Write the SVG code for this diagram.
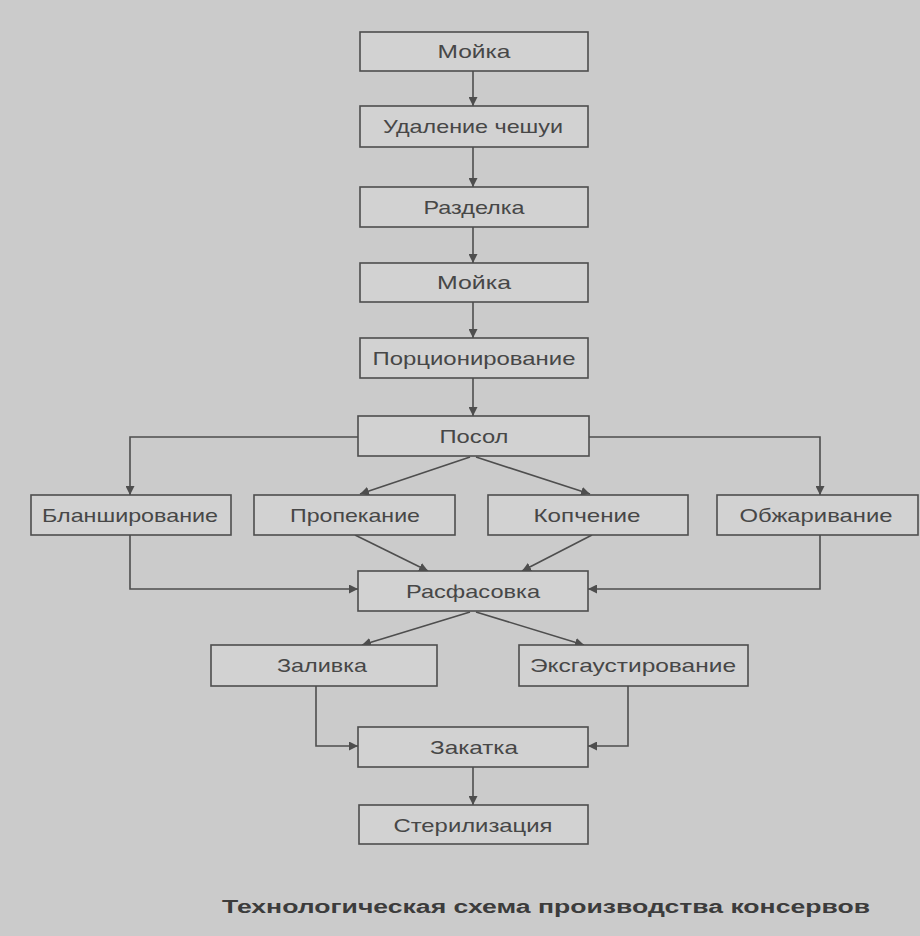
<svg xmlns="http://www.w3.org/2000/svg" width="920" height="936" viewBox="0 0 920 936">
<style>
.box{fill:#d2d2d2;stroke:#4e4e4e;stroke-width:1.6}
.lbl{font-family:"Liberation Sans",Arial,sans-serif;font-size:19px;fill:#474747;text-anchor:middle}
.ttl{font-family:"Liberation Sans",Arial,sans-serif;font-size:18px;font-weight:bold;fill:#3c3c3c}
.con{fill:none;stroke:#4e4e4e;stroke-width:1.6}
</style>
<defs>
<marker id="ah" viewBox="0 0 10 10" refX="10" refY="5" markerWidth="9" markerHeight="9" markerUnits="userSpaceOnUse" orient="auto">
<path d="M0,0 L10,5 L0,10 z" fill="#4e4e4e"/>
</marker>
</defs>
<rect x="0" y="0" width="920" height="936" fill="#cbcbcb"/>
<g id="connectors">
<path class="con" marker-end="url(#ah)" d="M473,71 V106"/>
<path class="con" marker-end="url(#ah)" d="M473,147 V187"/>
<path class="con" marker-end="url(#ah)" d="M473,227 V263"/>
<path class="con" marker-end="url(#ah)" d="M473,302 V338"/>
<path class="con" marker-end="url(#ah)" d="M473,378 V416"/>
<path class="con" marker-end="url(#ah)" d="M358,437 H130 V495"/>
<path class="con" marker-end="url(#ah)" d="M589,437 H820 V495"/>
<path class="con" marker-end="url(#ah)" d="M470,457 L360,494"/>
<path class="con" marker-end="url(#ah)" d="M476,457 L590,494"/>
<path class="con" marker-end="url(#ah)" d="M355,535 L428,571"/>
<path class="con" marker-end="url(#ah)" d="M592,535 L522,571"/>
<path class="con" marker-end="url(#ah)" d="M130,535 V589 H358"/>
<path class="con" marker-end="url(#ah)" d="M820,535 V589 H588"/>
<path class="con" marker-end="url(#ah)" d="M470,612 L362,645"/>
<path class="con" marker-end="url(#ah)" d="M476,612 L584,645"/>
<path class="con" marker-end="url(#ah)" d="M316,686 V746 H358"/>
<path class="con" marker-end="url(#ah)" d="M628,686 V746 H588"/>
<path class="con" marker-end="url(#ah)" d="M473,767 V805"/>
</g>
<g id="n1"><rect class="box" x="360" y="32" width="228" height="39"/><text class="lbl" x="474" y="58" textLength="73" lengthAdjust="spacingAndGlyphs">Мойка</text></g>
<g id="n2"><rect class="box" x="360" y="106" width="228" height="41"/><text class="lbl" x="473" y="133" textLength="180" lengthAdjust="spacingAndGlyphs">Удаление чешуи</text></g>
<g id="n3"><rect class="box" x="360" y="187" width="228" height="40"/><text class="lbl" x="474" y="214" textLength="101" lengthAdjust="spacingAndGlyphs">Разделка</text></g>
<g id="n4"><rect class="box" x="360" y="263" width="228" height="39"/><text class="lbl" x="474" y="289" textLength="74" lengthAdjust="spacingAndGlyphs">Мойка</text></g>
<g id="n5"><rect class="box" x="360" y="338" width="228" height="40"/><text class="lbl" x="474" y="365" textLength="203" lengthAdjust="spacingAndGlyphs">Порционирование</text></g>
<g id="n6"><rect class="box" x="358" y="416" width="231" height="40"/><text class="lbl" x="474" y="443" textLength="69" lengthAdjust="spacingAndGlyphs">Посол</text></g>
<g id="n7"><rect class="box" x="31" y="495" width="200" height="40"/><text class="lbl" x="130" y="522" textLength="176" lengthAdjust="spacingAndGlyphs">Бланширование</text></g>
<g id="n8"><rect class="box" x="254" y="495" width="201" height="40"/><text class="lbl" x="355" y="522" textLength="130" lengthAdjust="spacingAndGlyphs">Пропекание</text></g>
<g id="n9"><rect class="box" x="488" y="495" width="200" height="40"/><text class="lbl" x="587" y="522" textLength="107" lengthAdjust="spacingAndGlyphs">Копчение</text></g>
<g id="n10"><rect class="box" x="717" y="495" width="201" height="40"/><text class="lbl" x="816" y="522" textLength="153" lengthAdjust="spacingAndGlyphs">Обжаривание</text></g>
<g id="n11"><rect class="box" x="358" y="571" width="230" height="40"/><text class="lbl" x="473" y="598" textLength="134" lengthAdjust="spacingAndGlyphs">Расфасовка</text></g>
<g id="n12"><rect class="box" x="211" y="645" width="226" height="41"/><text class="lbl" x="322" y="672" textLength="90" lengthAdjust="spacingAndGlyphs">Заливка</text></g>
<g id="n13"><rect class="box" x="519" y="645" width="229" height="41"/><text class="lbl" x="633" y="672" textLength="206" lengthAdjust="spacingAndGlyphs">Эксгаустирование</text></g>
<g id="n14"><rect class="box" x="358" y="727" width="230" height="40"/><text class="lbl" x="474" y="754" textLength="88" lengthAdjust="spacingAndGlyphs">Закатка</text></g>
<g id="n15"><rect class="box" x="359" y="805" width="229" height="39"/><text class="lbl" x="473" y="832" textLength="159" lengthAdjust="spacingAndGlyphs">Стерилизация</text></g>
<text class="ttl" x="222" y="913" textLength="648" lengthAdjust="spacingAndGlyphs">Технологическая схема производства консервов</text>
</svg>
